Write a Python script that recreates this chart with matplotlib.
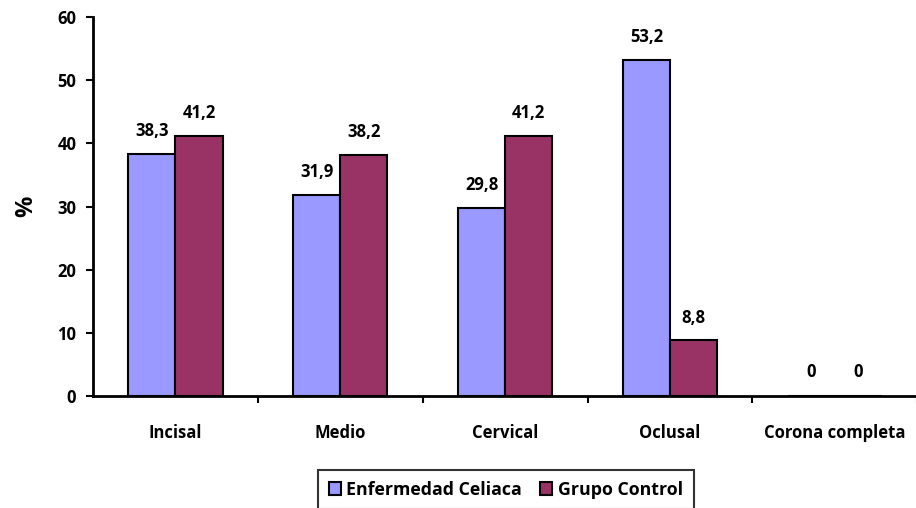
import numpy as np
import matplotlib.pyplot as plt

categories = ['Incisal', 'Medio', 'Cervical', 'Oclusal', 'Corona completa']
celiaca = [38.3, 31.9, 29.8, 53.2, 0]
control = [41.2, 38.2, 41.2, 8.8, 0]
yticks = [0, 10, 20, 30, 40, 50, 60]

plt.rcParams['font.family'] = ['Open Sans', 'DejaVu Sans']
plt.rcParams['font.weight'] = 'bold'
FS = 12

fig = plt.figure(figsize=(9.16, 5.08), dpi=100)
ax = fig.add_axes([0.1015, 0.2205, 0.9, 0.746])

x = np.arange(len(categories))
w = 0.286
b1 = ax.bar(x - w/2, celiaca, w, color='#9999FF', edgecolor='black', linewidth=1.5,
            label='Enfermedad Celiaca')
b2 = ax.bar(x + w/2, control, w, color='#993366', edgecolor='black', linewidth=1.5,
            label='Grupo Control')

def fmt(v):
    s = ('%.1f' % v).replace('.', ',')
    return '0' if v == 0 else s

# value labels above each bar
for bars, vals in ((b1, celiaca), (b2, control)):
    for r, v in zip(bars, vals):
        ax.annotate(fmt(v), (r.get_x() + r.get_width()/2, v), xytext=(0, 10 if v else 11),
                    textcoords='offset points', ha='center', va='bottom',
                    fontsize=FS, fontweight='bold')

ax.set_xlim(-0.5, len(categories) - 0.5)
ax.set_ylim(0, 60)
ax.set_yticks(yticks)
ax.set_yticklabels([str(t) for t in yticks], fontsize=FS, fontweight='bold')
ax.set_xticks(x)
ax.set_xticklabels(categories, fontsize=FS, fontweight='bold')
ax.set_xticks(np.arange(len(categories)) + 0.5, minor=True)
ax.tick_params(axis='x', which='major', length=0, pad=20)
ax.tick_params(axis='x', which='minor', length=5, width=1.5, direction='out')
ax.tick_params(axis='y', length=5, width=1.5, direction='out', pad=7)
ax.set_ylabel('%', fontsize=17, fontweight='bold', labelpad=14)

for side in ('top', 'right'):
    ax.spines[side].set_visible(False)
for side in ('left', 'bottom'):
    ax.spines[side].set_linewidth(2)

leg = fig.legend(loc='upper left', bbox_to_anchor=(318/916, 1 - 470/508), ncol=2,
                 fontsize=12.8, frameon=True, fancybox=False, handlelength=0.7,
                 handleheight=0.7, handletextpad=0.3, columnspacing=1.0,
                 borderpad=0.6, borderaxespad=0)
leg.get_frame().set_edgecolor('black')
leg.get_frame().set_linewidth(1.5)
for t in leg.get_texts():
    t.set_fontweight('bold')

fig.savefig('out.png', dpi=100)
